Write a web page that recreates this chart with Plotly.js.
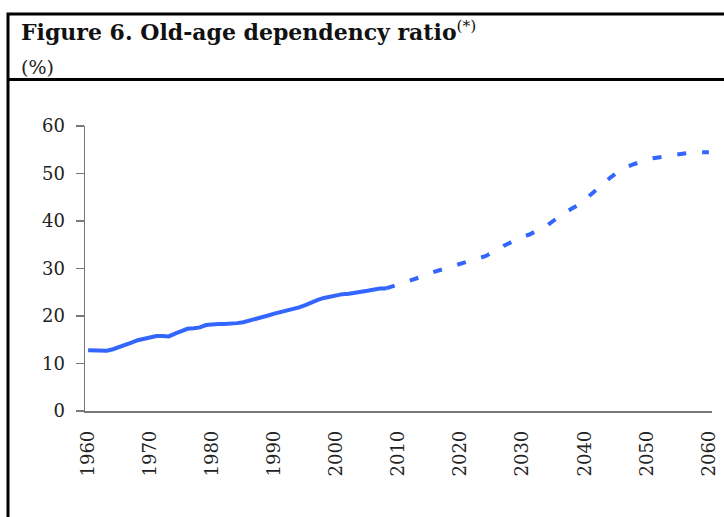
<!DOCTYPE html>
<html>
<head>
<meta charset="utf-8">
<script src="https://cdn.plot.ly/plotly-3.0.1.min.js"></script>
<style>
html,body{margin:0;padding:0;background:#fff;}
#chart{width:724px;height:517px;}
</style>
</head>
<body>
<div id="chart"></div>
<script>
// Observed values (1960-2008)
var yearsObserved = [1960,1961,1962,1963,1964,1965,1966,1967,1968,1969,
  1970,1971,1972,1973,1974,1975,1976,1977,1978,1979,
  1980,1981,1982,1983,1984,1985,1986,1987,1988,1989,
  1990,1991,1992,1993,1994,1995,1996,1997,1998,1999,
  2000,2001,2002,2003,2004,2005,2006,2007,2008];
var ratioObserved = [12.8,12.7,12.7,12.7,13.0,13.4,13.9,14.4,14.9,15.2,
  15.5,15.8,15.8,15.7,16.3,16.9,17.3,17.4,17.6,18.1,
  18.3,18.3,18.3,18.3,18.5,18.7,19.0,19.4,19.8,20.1,
  20.5,20.8,21.1,21.6,21.8,22.3,22.9,23.4,23.8,24.1,
  24.5,24.6,24.7,25.0,25.1,25.3,25.6,25.8,25.8];

// Projected values (2008-2060)
var yearsProjected = [2008,2009,2010,2011,2012,2013,2014,2015,2016,2017,
  2018,2019,2020,2021,2022,2023,2024,2025,2026,2027,
  2028,2029,2030,2031,2032,2033,2034,2035,2036,2037,
  2038,2039,2040,2041,2042,2043,2044,2045,2046,2047,
  2048,2049,2050,2051,2052,2053,2054,2055,2056,2057,
  2058,2059,2060];
var ratioProjected = [25.8,26.2,26.6,27.2,27.6,28.0,28.4,29.0,29.4,29.7,
  30.0,30.6,31.0,31.3,31.6,32.2,32.6,33.3,33.9,34.8,
  35.5,36.2,36.7,37.1,37.7,38.4,39.1,40.1,41.0,41.9,
  42.7,43.4,44.3,45.6,46.8,47.9,49.0,50.0,50.8,51.5,
  52.0,52.5,52.9,53.2,53.4,53.8,54.0,54.2,54.4,54.4,
  54.5,54.5,54.5];

var xTickVals = [1960,1970,1980,1990,2000,2010,2020,2030,2040,2050,2060];
var yTickVals = [0,10,20,30,40,50,60];

var titleText = '<b>Figure 6. Old-age dependency ratio</b><sup>(*)</sup>';
var unitText = '(%)';

var lineColor = '#3366FF';
var serif = '"DejaVu Serif", "Liberation Serif", serif';

var traces = [
  {x: yearsObserved, y: ratioObserved, type: 'scatter', mode: 'lines',
   line: {color: lineColor, width: 4}, hoverinfo: 'skip'},
  {x: yearsProjected, y: ratioProjected, type: 'scatter', mode: 'lines',
   line: {color: lineColor, width: 4, dash: '9px,16px'}, hoverinfo: 'skip'}
];

// plot area: x 85..712, y 126..411
function px(p){ return (p - 85) / 627; }
function py(p){ return (411 - p) / 285; }

var layout = {
  width: 724, height: 517,
  margin: {l: 85, r: 12, t: 126, b: 106, pad: 0},
  paper_bgcolor: '#fff', plot_bgcolor: '#fff',
  showlegend: false,
  font: {family: serif, color: '#222', size: 18},
  xaxis: {
    range: [1959.5, 2060.5], tickmode: 'array', tickvals: xTickVals,
    ticktext: xTickVals.map(String), tickangle: -90,
    showgrid: false, zeroline: false, showline: true, linecolor: '#777', linewidth: 1.5,
    ticks: '', ticklabelstandoff: 11,
    tickfont: {family: serif, size: 18, color: '#222'}
  },
  yaxis: {
    range: [0, 60], tickmode: 'array', tickvals: yTickVals,
    showgrid: false, zeroline: false, showline: true, linecolor: '#777', linewidth: 1.5,
    ticks: 'outside', ticklen: 8, tickcolor: '#777', tickwidth: 1.5,
    ticklabelstandoff: 7,
    tickfont: {family: serif, size: 18, color: '#222'}
  },
  shapes: [
    {type: 'rect', xref: 'paper', yref: 'paper', x0: px(8), x1: px(740), y0: py(540), y1: py(14),
     line: {color: '#000', width: 3}, fillcolor: 'rgba(0,0,0,0)', layer: 'below'},
    {type: 'line', xref: 'paper', yref: 'paper', x0: px(8), x1: px(740), y0: py(79.5), y1: py(79.5),
     line: {color: '#000', width: 3}}
  ],
  annotations: [
    {text: titleText, xref: 'paper', yref: 'paper', x: px(19), y: py(15),
     xanchor: 'left', yanchor: 'top', showarrow: false,
     font: {family: serif, size: 22, color: '#111'}},
    {text: unitText, xref: 'paper', yref: 'paper', x: px(19), y: py(54),
     xanchor: 'left', yanchor: 'top', showarrow: false,
     font: {family: serif, size: 19, color: '#222'}}
  ]
};

Plotly.newPlot('chart', traces, layout, {displayModeBar: false, staticPlot: true});
</script>
</body>
</html>
